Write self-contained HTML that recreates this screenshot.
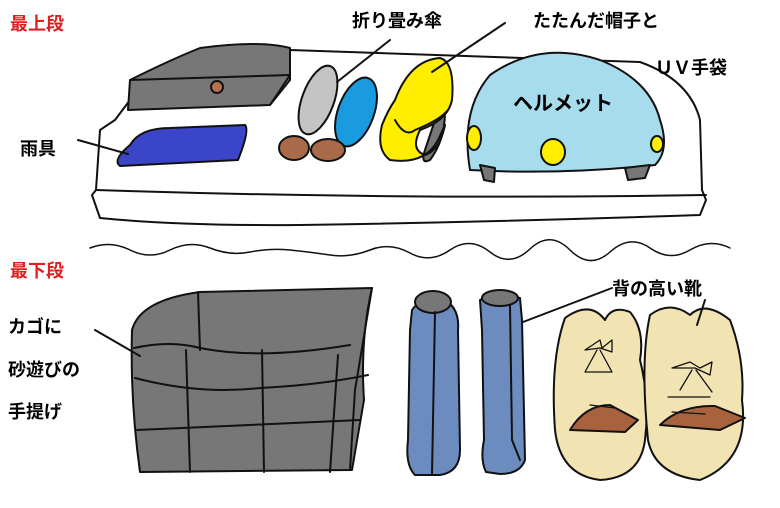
<!DOCTYPE html>
<html><head><meta charset="utf-8"><style>
body{margin:0;background:#fff;width:780px;height:508px;overflow:hidden}
svg{display:block}
text{font-family:"Liberation Sans","Noto Sans CJK JP",sans-serif;font-weight:bold}
</style></head><body>
<svg width="780" height="508" viewBox="0 0 780 508">
<g stroke="#111" stroke-width="2" stroke-linejoin="round" stroke-linecap="round">
<!-- tray -->
<path d="M130 100 L290 50 Q450 55 640 62 Q690 80 700 120 L702 190 L706 200 L700 215 Q500 222 300 225 Q180 226 100 218 L92 195 L96 190 L100 130 L115 120 Z" fill="#fff"/>
<path d="M96 190 Q400 200 706 195" fill="none"/>
<!-- gray box -->
<path d="M130 80 Q170 60 200 48 Q260 40 290 48 L290 80 L270 105 L128 110 Z" fill="#777"/>
<path d="M130 80 L290 75 M290 75 L270 105" fill="none"/>
<circle cx="217" cy="87" r="6" fill="#b87050"/>
<!-- rain gear -->
<path d="M130 145 Q140 128 170 128 L245 125 Q250 130 238 160 L120 166 Q112 160 130 145 Z" fill="#3b45c8"/>
<path d="M78 140 L128 154" fill="none"/>
<!-- umbrellas -->
<ellipse cx="318" cy="100" rx="16" ry="36" transform="rotate(20 318 100)" fill="#c4c4c4"/>
<ellipse cx="356" cy="112" rx="18" ry="36" transform="rotate(20 356 112)" fill="#1a9be0"/>
<ellipse cx="294" cy="148" rx="15" ry="12" fill="#a86a48"/>
<ellipse cx="328" cy="150" rx="17" ry="11" fill="#a86a48"/>
<path d="M337 82 L390 40" fill="none"/>
<!-- gray glove -->
<path d="M435 120 L445 112 Q445 140 430 160 Q420 165 425 150 Z" fill="#777"/>
<!-- yellow hat -->
<path d="M395 100 Q410 60 440 58 Q455 62 452 100 Q448 120 420 130 Q410 150 425 155 Q440 150 445 125 L438 140 Q425 165 390 160 Q376 150 382 125 Q388 110 395 100 Z" fill="#ffee00"/>
<path d="M395 120 Q405 138 415 130 Q440 120 448 110" fill="none"/>
<path d="M432 72 L505 23" fill="none"/>
<!-- helmet -->
<path d="M470 170 Q460 110 490 75 Q540 40 600 60 Q650 80 660 120 Q670 150 655 165 Q560 175 470 170 Z" fill="#a6dcec"/>
<path d="M480 165 L495 168 L494 182 L484 180 Z" fill="#777"/>
<path d="M625 168 L650 165 L645 178 L628 180 Z" fill="#777"/>
<ellipse cx="474" cy="138" rx="7" ry="12" fill="#ffee00"/>
<ellipse cx="553" cy="152" rx="12" ry="13" fill="#ffee00"/>
<ellipse cx="657" cy="144" rx="6" ry="8" fill="#ffee00"/>
<!-- wave -->
<path d="M90 248 Q110 240 130 250 T170 250 T210 248 T250 252 T290 250 T330 255 T370 250 T410 253 T450 250 T490 252 T530 249 T570 250 T610 252 T650 248 T690 250 T730 248" fill="none" stroke-width="1.5"/>
<!-- basket -->
<path d="M132 330 Q140 300 200 292 L372 288 Q360 340 364 400 L352 470 L140 472 Q130 400 132 330 Z" fill="#777"/>
<path d="M134 348 Q170 340 200 348 Q260 360 350 345 M135 378 Q200 395 260 388 Q320 385 368 375 M137 430 Q250 425 360 420 M198 292 L200 350 M186 350 L190 472 M262 350 L264 472 M338 355 L330 472 M372 288 L355 390 L350 470" fill="none"/>
<path d="M95 330 L140 356" fill="none"/>
<!-- boots -->
<path d="M412 310 Q420 298 440 298 Q460 305 458 330 L460 450 Q460 472 440 475 L415 475 Q405 465 408 440 L410 330 Z" fill="#6c8cc0"/>
<ellipse cx="433" cy="302" rx="18" ry="11" fill="#777"/>
<path d="M435 312 L432 475" fill="none"/>
<path d="M480 300 Q495 292 520 298 L522 320 L525 460 Q520 474 500 474 L486 472 Q480 460 484 440 L482 330 Z" fill="#6c8cc0"/>
<ellipse cx="500" cy="298" rx="18" ry="8" fill="#777"/>
<path d="M510 305 L512 440 L520 460" fill="none"/>
<path d="M523 322 L612 288" fill="none"/>
<!-- shoes -->
<path d="M565 318 Q590 300 605 320 Q612 305 630 312 Q645 330 640 360 Q650 400 645 440 Q640 478 600 480 Q560 475 555 430 Q550 360 565 318 Z" fill="#f2e4b2"/>
<path d="M570 430 Q585 405 610 405 L638 420 L625 432 Z" fill="#a8623e"/>
<path d="M585 350 L600 340 L602 348 L612 340 L612 352 L600 348 Z M597 350 L585 372 L612 372 L600 350 M590 405 L615 408" fill="none" stroke-width="1.3"/>
<path d="M650 315 Q670 300 690 315 Q705 300 730 320 Q745 360 742 400 Q750 460 700 480 Q655 475 648 440 Q640 360 650 315 Z" fill="#f2e4b2"/>
<path d="M660 425 Q680 405 715 406 L745 418 L720 430 Z" fill="#a8623e"/>
<path d="M672 368 L690 362 L700 368 L712 362 L710 375 L695 368 Z M692 370 L680 390 M696 370 L712 392 M668 397 L710 397 M672 412 L705 414" fill="none" stroke-width="1.3"/>
<path d="M697 325 L705 300" fill="none"/>
</g>
<g font-size="18">
<text x="10" y="30" fill="#e02020">最上段</text>
<text x="10" y="277" fill="#e02020">最下段</text>
<text x="352" y="27">折り畳み傘</text>
<text x="533" y="27">たたんだ帽子と</text>
<text x="655" y="74">ＵＶ手袋</text>
<text x="20" y="155">雨具</text>
<text x="513" y="110" font-size="20">ヘルメット</text>
<text x="612" y="295">背の高い靴</text>
<text x="8" y="333">カゴに</text>
<text x="8" y="376">砂遊びの</text>
<text x="8" y="418">手提げ</text>
</g>
</svg>
</body></html>
